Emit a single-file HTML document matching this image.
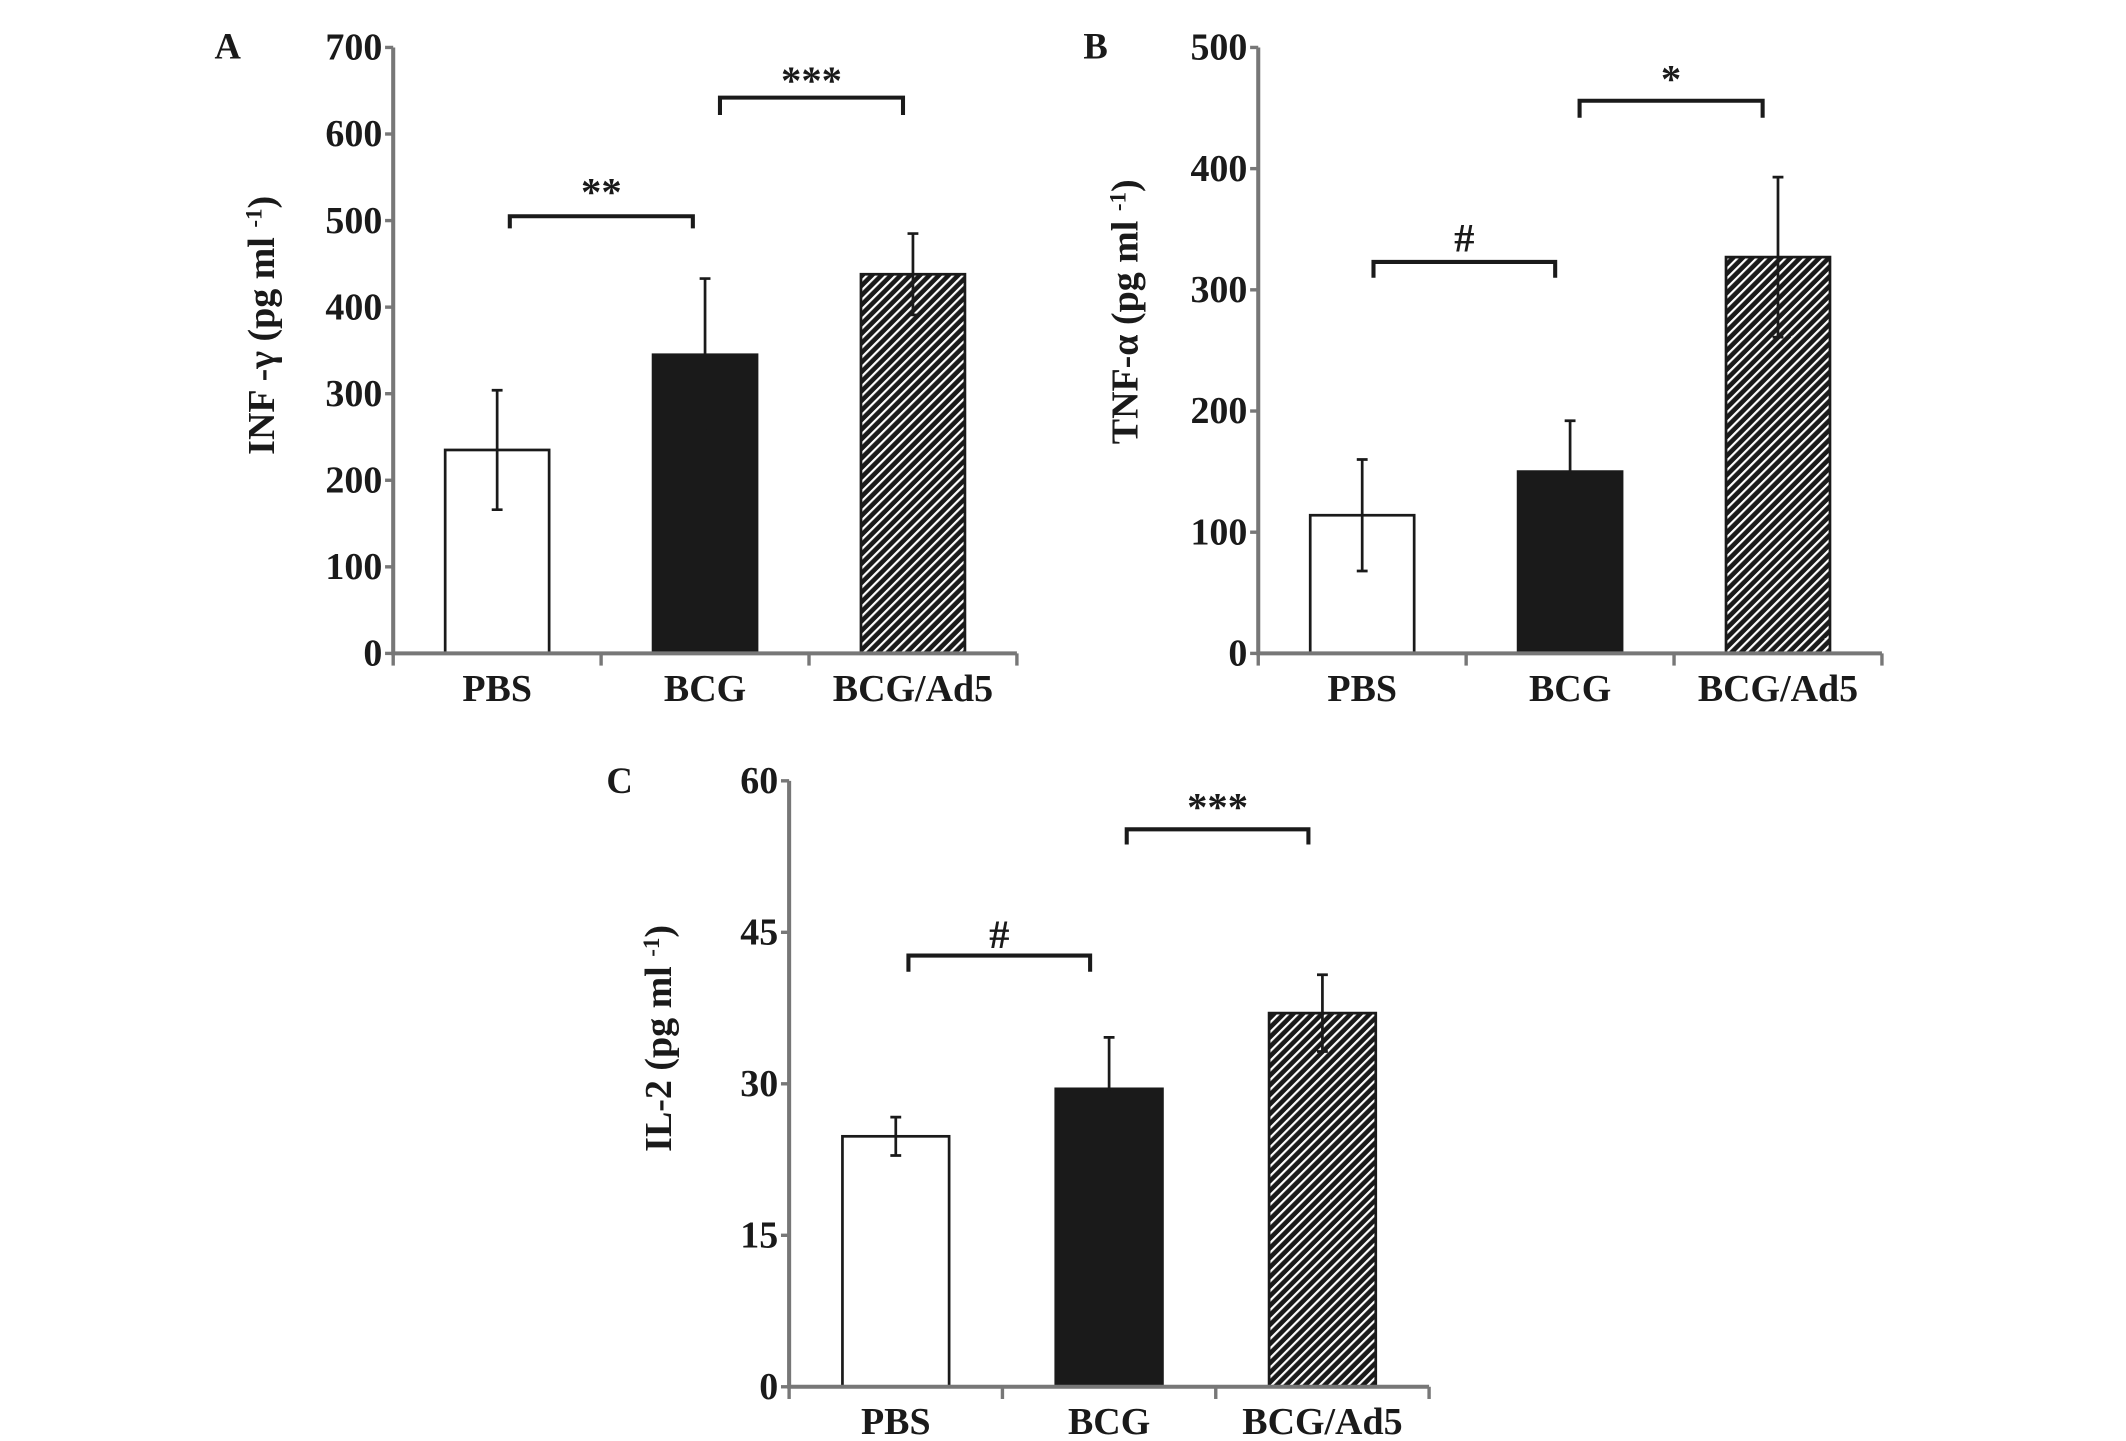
<!DOCTYPE html>
<html><head><meta charset="utf-8"><style>
html,body{margin:0;padding:0;background:#fff;}
svg{display:block;}
text{font-family:"Liberation Serif",serif;font-weight:bold;fill:#1a1a1a;}
</style></head>
<body>
<svg id="fig" width="2126" height="1441" viewBox="0 0 1568 1063" preserveAspectRatio="none" xmlns="http://www.w3.org/2000/svg">
<defs>
<pattern id="hatch" patternUnits="userSpaceOnUse" width="5" height="5" patternTransform="rotate(45)">
<rect width="5" height="5" fill="#1a1a1a"/>
<rect x="0" y="0" width="1.6" height="5" fill="#fff"/>
</pattern>
</defs>
</svg>
<script>
const categories = ["PBS", "BCG", "BCG/Ad5"];
const aValues = [235, 345, 438];
const aErrors = [69, 88, 47];
const aTicks = [0, 100, 200, 300, 400, 500, 600, 700];
const bValues = [114, 150, 327];
const bErrors = [46, 42, 66];
const bTicks = [0, 100, 200, 300, 400, 500];
const cValues = [24.8, 29.5, 37.0];
const cErrors = [1.9, 5.1, 3.8];
const cTicks = [0, 15, 30, 45, 60];
const aSig = [{from:0,to:1,y:505,leg:491,label:"**",ly:533},{from:1,to:2,y:642,leg:622,label:"***",ly:662}];
const bSig = [{from:0,to:1,y:323,leg:310,label:"#",ly:343},{from:1,to:2,y:456,leg:442,label:"*",ly:474}];
const cSig = [{from:0,to:1,y:42.7,leg:41.1,label:"#",ly:44.8},{from:1,to:2,y:55.2,leg:53.7,label:"***",ly:57.4}];

const svg = document.getElementById('fig');
const NS = "http://www.w3.org/2000/svg";
function mk(tag, attrs, parent){const e=document.createElementNS(NS,tag);for(const k in attrs)e.setAttribute(k,attrs[k]);(parent||svg).appendChild(e);return e;}

function panel(id, x0, x1, yTop, yBot, ticks, values, errors, sig, letter, lx, ly, title, tx, ty, brX){
  const g = mk('g',{});
  
  
  const vmax = ticks[ticks.length-1];
  const Y = v => yBot - (v/vmax)*(yBot-yTop);
  const step = (x1-x0)/categories.length;
  const X = i => x0 + step*(i+0.5);
  const bw = step*0.5;
  categories.forEach((c,i)=>{
    const fill = i===0?'#fff':(i===1?'#1a1a1a':'url(#hatch)');
    const r = mk('rect',{x:X(i)-bw/2,y:Y(values[i]),width:bw,height:yBot-Y(values[i]),fill:fill,stroke:'#1a1a1a','stroke-width':2},g);
    
    
    const e = mk('path',{d:`M${X(i)},${Y(values[i]+errors[i])}V${Y(values[i]-errors[i])}M${X(i)-4},${Y(values[i]+errors[i])}h8M${X(i)-4},${Y(values[i]-errors[i])}h8`,stroke:'#1a1a1a','stroke-width':2,fill:'none'},g);
    
    
    const t = mk('text',{x:X(i),y:yBot+35,'text-anchor':'middle','font-size':28},g);
    t.textContent = c;
    
    
  });
  const ax = mk('path',{d:`M${x0},${yTop}V${yBot}H${x1}`,stroke:'#777','stroke-width':3,fill:'none'},g);
  
  
  ticks.forEach(v=>{
    mk('path',{d:`M${x0-6},${Y(v)}H${x0}`,stroke:'#777','stroke-width':2.5},g);
    const t = mk('text',{x:x0-8,y:Y(v)+9,'text-anchor':'end','font-size':28},g);
    t.textContent = v;
    
    
  });
  for(let i=0;i<=categories.length;i++){
    mk('path',{d:`M${x0+step*i},${yBot}v9`,stroke:'#777','stroke-width':2.5},g);
  }
  sig.forEach((s,k)=>{
    const xa = brX[k][0], xb = brX[k][1];
    const p = mk('path',{d:`M${xa},${Y(s.leg)}V${Y(s.y)}H${xb}V${Y(s.leg)}`,stroke:'#1a1a1a','stroke-width':3,fill:'none'},g);
    
    
    const t = mk('text',{x:(xa+xb)/2,y:Y(s.ly)+10,'text-anchor':'middle','font-size':30},g);
    t.textContent = s.label;
    
    
  });
  const L = mk('text',{x:lx,y:ly,'text-anchor':'middle','font-size':27},g);
  L.textContent = letter;
  
  
  const T = mk('text',{x:0,y:0,'text-anchor':'middle','font-size':28,transform:`translate(${tx},${ty}) rotate(-90)`},g);
  T.innerHTML = title;
  
  
}
panel('a', 290, 750, 35, 482, aTicks, aValues, aErrors, aSig, 'A', 168, 43,
  'INF -γ (pg ml <tspan dy="-9" font-size="17">-1</tspan><tspan dy="9">)</tspan>', 202, 240, [[376,511],[531,666]]);
panel('b', 928, 1388, 35, 482, bTicks, bValues, bErrors, bSig, 'B', 808, 43,
  'TNF-α (pg ml <tspan dy="-9" font-size="17">-1</tspan><tspan dy="9">)</tspan>', 839, 230, [[1013,1147],[1165,1300]]);
panel('c', 582, 1054, 576, 1023, cTicks, cValues, cErrors, cSig, 'C', 457, 585,
  'IL-2 (pg ml <tspan dy="-9" font-size="17">-1</tspan><tspan dy="9">)</tspan>', 495, 766, [[670,804],[831,965]]);
</script>
</body></html>
